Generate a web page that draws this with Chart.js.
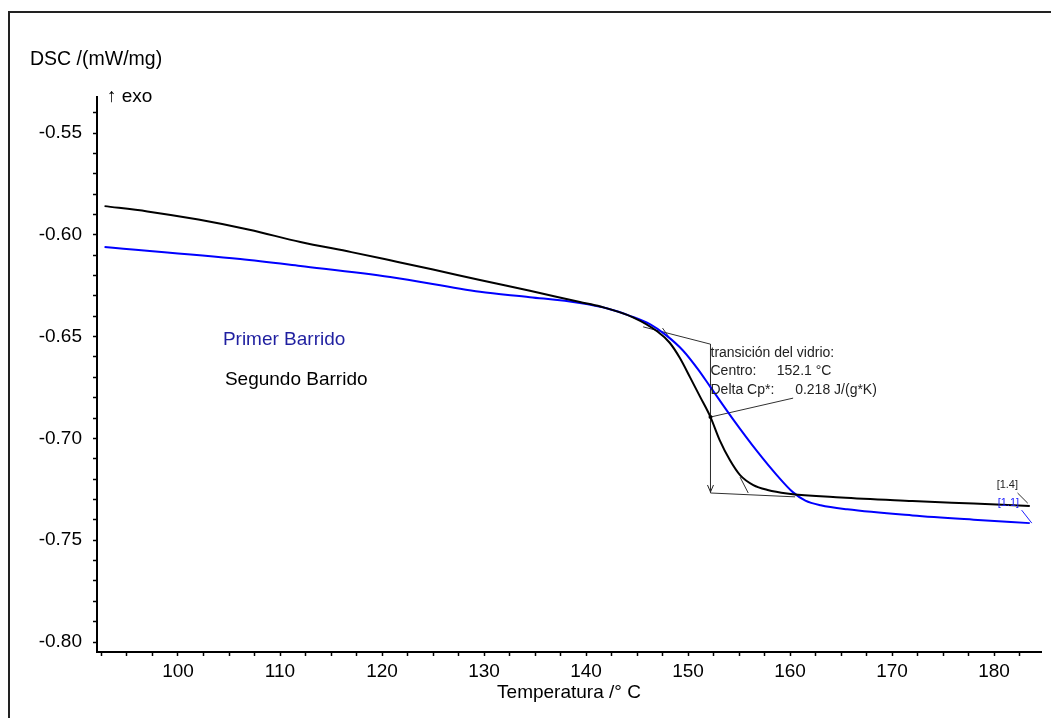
<html lang="es">
<head>
    <meta charset="UTF-8"/>
    <title>DSC</title>
    <script src="https://cdn.jsdelivr.net/npm/chart.js@4.4.1/dist/chart.umd.min.js"></script>
    <style>
        html, body { margin: 0; padding: 0; background: #fff; }
        #wrap { width: 1051px; height: 718px; }
    </style>
</head>
<body>
<div id="wrap">
    <canvas id="myChart" width="1051" height="718"></canvas>
</div>
<script>
    // Primer Barrido (blue)
    const primerX = [92.8, 106.1, 112.0, 120.8, 129.6, 134.5, 139.4, 142.1, 144.3, 146.3, 147.9, 149.5, 151.0, 152.2, 154.4, 156.8, 158.7, 160.3, 161.5, 163.0, 165.6, 172.0, 178.0, 183.5];
    const primerY = [-0.6060, -0.6119, -0.6153, -0.6207, -0.6280, -0.6306, -0.6335, -0.6362, -0.6398, -0.6440, -0.6495, -0.6568, -0.6662, -0.6748, -0.6905, -0.7065, -0.7180, -0.7265, -0.7305, -0.7328, -0.7348, -0.7378, -0.7399, -0.7416];

    // Segundo Barrido (black)
    const segundoX = [92.8, 97.0, 102.0, 107.0, 112.0, 117.0, 120.8, 125.0, 129.6, 134.5, 139.4, 141.4, 144.6, 147.0, 148.2, 149.2, 150.2, 151.2, 152.2, 153.1, 154.1, 155.1, 156.4, 157.8, 159.7, 165.0, 172.0, 178.0, 183.5];
    const segundoY = [-0.5859, -0.5885, -0.5925, -0.5975, -0.6035, -0.6085, -0.6125, -0.6170, -0.6222, -0.6275, -0.6330, -0.6352, -0.6405, -0.6475, -0.6530, -0.6605, -0.6700, -0.6797, -0.6895, -0.7008, -0.7106, -0.7180, -0.7229, -0.7253, -0.7270, -0.7290, -0.7307, -0.7320, -0.7332];

    // glass transition construction (x, y pairs)
    const upperBase = [[145.6, -0.6452], [152.2, -0.6537]];
    const stepLine = [[152.2, -0.6537], [152.2, -0.7268]];
    const lowerBase = [[152.2, -0.7268], [160.5, -0.7287]];
    const tangentTop = [[147.5, -0.6458], [148.3, -0.6515]];
    const tangentBottom = [[155.1, -0.7190], [155.9, -0.7268]];
    const leader = [[152.2, -0.6895], [160.3, -0.6802]];
    const tag14 = [[182.3, -0.7268], [183.3, -0.7318]];
    const tag11 = [[182.7, -0.7352], [183.7, -0.7416]];

    const xMin = 92.06, xMax = 184.6;
    const yMin = -0.8049, yMax = -0.5323;

    const toPts = (xs, ys) => xs.map((v, i) => ({x: v, y: ys[i]}));
    const pairPts = (arr) => arr.map(p => ({x: p[0], y: p[1]}));

    function thin(data, color) {
        return {
            data: pairPts(data),
            borderColor: color || '#303030',
            borderWidth: 1,
            pointRadius: 0,
            showLine: true,
            order: 3
        };
    }

    const overlay = {
        id: 'overlay',
        afterDraw(chart) {
            const ctx = chart.ctx;
            const xs = chart.scales.x, ys = chart.scales.y;
            const px = v => xs.getPixelForValue(v);
            const py = v => ys.getPixelForValue(v);
            ctx.save();

            // outer frame (top + left)
            ctx.strokeStyle = '#222';
            ctx.lineWidth = 2;
            ctx.beginPath();
            ctx.moveTo(9, 718);
            ctx.lineTo(9, 12);
            ctx.lineTo(1051, 12);
            ctx.stroke();

            // y title
            ctx.fillStyle = '#000';
            ctx.textBaseline = 'middle';
            ctx.textAlign = 'left';
            ctx.font = '19.5px "Liberation Sans", Arial, sans-serif';
            ctx.fillText('DSC /(mW/mg)', 30, 60);
            ctx.font = '19px "Liberation Sans", Arial, sans-serif';
            ctx.fillText('\u2191 exo', 107, 97);

            // series labels
            ctx.font = '19px "Liberation Sans", Arial, sans-serif';
            ctx.fillStyle = '#1f1fa0';
            ctx.fillText('Primer Barrido', px(104.4), py(-0.6517));
            ctx.fillStyle = '#000';
            ctx.fillText('Segundo Barrido', px(104.6), py(-0.6713));

            // glass transition text
            ctx.font = '14px "Liberation Sans", Arial, sans-serif';
            ctx.fillStyle = '#222';
            ctx.fillText('transición del vidrio:', px(152.2), py(-0.6580));
            ctx.fillText('Centro:', px(152.2), py(-0.6668));
            ctx.fillText('152.1 °C', px(158.7), py(-0.6668));
            ctx.fillText('Delta Cp*:', px(152.2), py(-0.6761));
            ctx.fillText('0.218 J/(g*K)', px(160.5), py(-0.6761));

            // arrow head at bottom of step line
            const ax = px(stepLine[1][0]), ay = py(stepLine[1][1]);
            ctx.strokeStyle = '#222';
            ctx.lineWidth = 1;
            ctx.beginPath();
            ctx.moveTo(ax - 3, ay - 8);
            ctx.lineTo(ax, ay - 1);
            ctx.lineTo(ax + 3, ay - 8);
            ctx.stroke();

            // end tags
            ctx.font = '11px "Liberation Sans", Arial, sans-serif';
            ctx.textAlign = 'center';
            ctx.fillStyle = '#222';
            ctx.fillText('[1.4]', px(181.3), py(-0.7229));
            ctx.fillStyle = '#2020ff';
            ctx.fillText('[1.1]', px(181.4), py(-0.7317));
            ctx.restore();
        }
    };

    const tickFont = {family: '"Liberation Sans", Arial, sans-serif', size: 19};

    const ctx = document.getElementById('myChart').getContext('2d');
    new Chart(ctx, {
        type: 'scatter',
        data: {
            datasets: [
                {
                    label: 'Segundo Barrido',
                    data: toPts(segundoX, segundoY),
                    borderColor: '#000',
                    borderWidth: 2,
                    pointRadius: 0,
                    showLine: true,
                    cubicInterpolationMode: 'monotone',
                    order: 0
                },
                {
                    label: 'Primer Barrido',
                    data: toPts(primerX, primerY),
                    borderColor: '#0000ff',
                    borderWidth: 2,
                    pointRadius: 0,
                    showLine: true,
                    cubicInterpolationMode: 'monotone',
                    order: 1
                },
                thin(upperBase),
                thin(stepLine),
                thin(lowerBase),
                thin(tangentTop),
                thin(tangentBottom),
                Object.assign(thin(leader), {pointRadius: [2, 0], pointBackgroundColor: '#000', pointBorderWidth: 0}),
                thin(tag14),
                thin(tag11, '#2020ff')
            ]
        },
        options: {
            responsive: false,
            animation: false,
            layout: {padding: {top: 97, right: 10, left: 0, bottom: 0}},
            plugins: {
                legend: {display: false},
                tooltip: {enabled: false}
            },
            scales: {
                x: {
                    type: 'linear',
                    min: xMin,
                    max: xMax,
                    afterFit: (s) => { s.height = 66; },
                    afterBuildTicks: (s) => {
                        s.ticks = s.ticks.filter(t => Math.abs(t.value / 2.5 - Math.round(t.value / 2.5)) < 1e-6);
                    },
                    ticks: {
                        stepSize: 2.5,
                        includeBounds: false,
                        autoSkip: false,
                        maxRotation: 0,
                        padding: 4,
                        color: '#000',
                        font: tickFont,
                        callback: (v) => (Math.abs(v % 10) < 1e-6 ? String(Math.round(v)) : '')
                    },
                    grid: {
                        drawOnChartArea: false,
                        drawTicks: true,
                        tickLength: 4,
                        tickColor: '#000',
                        tickWidth: 1.5
                    },
                    border: {color: '#000', width: 2},
                    title: {
                        display: true,
                        text: 'Temperatura /° C',
                        color: '#000',
                        font: tickFont,
                        padding: {top: 0, bottom: 14}
                    }
                },
                y: {
                    type: 'linear',
                    min: yMin,
                    max: yMax,
                    afterFit: (s) => { s.width = 97; },
                    afterBuildTicks: (s) => {
                        s.ticks = s.ticks.filter(t => Math.abs(t.value * 100 - Math.round(t.value * 100)) < 1e-6);
                    },
                    ticks: {
                        stepSize: 0.01,
                        includeBounds: false,
                        autoSkip: false,
                        padding: 11,
                        color: '#000',
                        font: tickFont,
                        callback: (v) => (Math.round(v * 100) % 5 === 0 ? v.toFixed(2) : '')
                    },
                    grid: {
                        drawOnChartArea: false,
                        drawTicks: true,
                        tickLength: 4,
                        tickColor: '#000',
                        tickWidth: 1.5
                    },
                    border: {color: '#000', width: 2}
                }
            }
        },
        plugins: [overlay]
    });
</script>
</body>
</html>
